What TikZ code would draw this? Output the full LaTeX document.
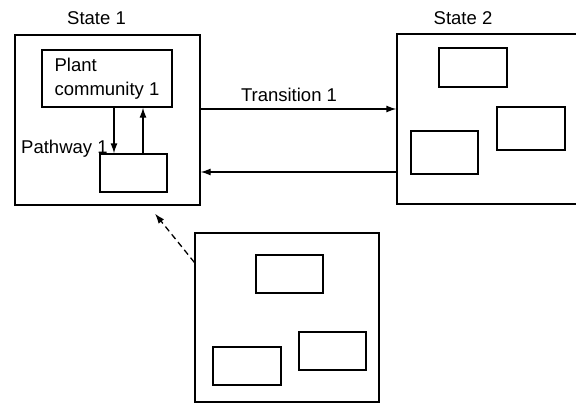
\documentclass[tikz,border=0pt]{standalone}
\usepackage{fontspec}
\setmainfont{Liberation Sans}
\usetikzlibrary{arrows.meta}
\begin{document}
\begin{tikzpicture}[x=1pt, y=-1pt,
		box/.style={draw, line width=1.3pt, inner sep=0pt},
		statebox/.style={box, minimum width=185pt, minimum height=170pt},
		smallbox/.style={box, minimum width=67pt, minimum height=38pt},
		lbl/.style={inner sep=0pt, anchor=base, font=\fontsize{18.5}{23.5}\selectfont},
		arr/.style={line width=1.3pt, -{Latex[length=10pt,width=7pt]}}]
		\useasboundingbox (0,0) rectangle (576,404);
		\node[statebox] (s1) at (107.5,120) {};
		\node[statebox, minimum width=223pt] (s2) at (508.5,119) {};
		\node[statebox, minimum width=184pt, minimum height=169pt] (s3) at (287,317.5) {};
		\node[lbl] (t1) at (96.5,25) {State 1};
		\node[lbl] (t2) at (463,25) {State 2};
		\node[box, minimum width=130pt, minimum height=57pt, align=left, font=\fontsize{18.5}{23.5}\selectfont] (pc) at (107,78.5) {Plant\\community 1};
		\node[smallbox] (p1) at (133.5,173) {};
		\node[smallbox, minimum width=68pt, minimum height=39pt] (q1) at (473,67.5) {};
		\node[smallbox, minimum width=68pt, minimum height=43pt] (q2) at (531,128.5) {};
		\node[smallbox, minimum height=43pt] (q3) at (444.5,152.5) {};
		\node[smallbox] (r1) at (289.5,274) {};
		\node[smallbox] (r2) at (332.5,351) {};
		\node[smallbox, minimum width=68pt] (r3) at (247,366) {};
		\node[lbl, anchor=base west] (pw) at (21,153) {Pathway 1};
		\draw[arr] ([xshift=7pt]pc.south) -- ([xshift=7pt]pc.south |- p1.north);
		\draw[arr] ([xshift=36pt]pc.south |- p1.north) -- ([xshift=36pt]pc.south);
		\draw[arr] ([yshift=11pt]s1.east) -- ([yshift=11pt]s1.east -| s2.west);
		\draw[arr] ([yshift=-52pt]s1.east -| s2.west) -- ([yshift=-52pt]s1.east);
		\node[lbl] (tr) at (289,102) {Transition 1};
		\draw[arr, dashed, dash pattern=on 6pt off 4pt] ([yshift=-30pt]s3.north west) -- ([xshift=47.5pt, yshift=-8pt]s1.south);
	\end{tikzpicture}
\end{document}
